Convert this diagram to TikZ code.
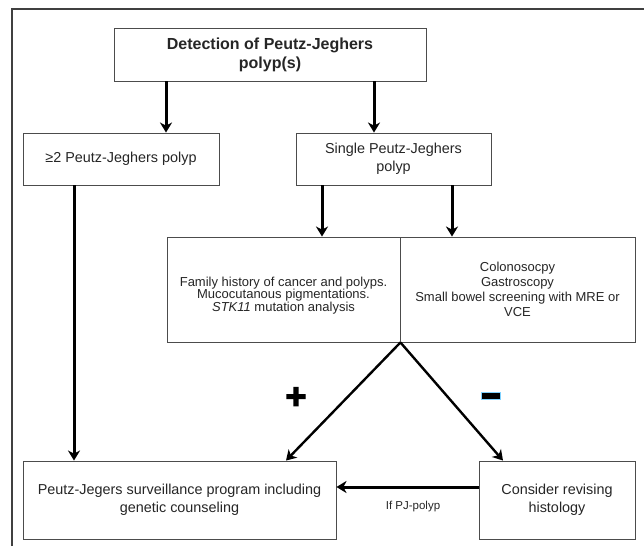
\documentclass[tikz,border=0pt]{standalone}
\usepackage{fontspec}
\setmainfont{Liberation Sans}
\newfontfamily\signfont{Liberation Sans Bold}[FakeBold=3]
\usetikzlibrary{arrows.meta}

\begin{document}
\begin{tikzpicture}[x=1pt,y=1pt,->,>={Stealth[length=10pt,width=12pt,inset=3pt]},line width=3pt]
    \tikzstyle{box}=[draw=black!70,line width=0.9pt,fill=white,align=center,inner sep=0pt,text=black!85,font=\fontsize{14.4}{18}\selectfont]
    \tikzstyle{half}=[box,minimum height=105pt,font=\fontsize{13}{15}\selectfont]
    \tikzstyle{diag}=[line width=2.4pt]

\useasboundingbox (0,0) rectangle (644,-546);
\draw[-,draw=black!75,line width=1.5pt] (12,-546) -- (12,-9) -- (644,-9);

\node[box,minimum width=312pt,minimum height=53pt,font=\bfseries\fontsize{16}{19}\selectfont] (detect) at (270,-54.5) {Detection of Peutz-Jeghers\\polyp(s)};
\node[box,minimum width=196pt,minimum height=52pt] (multi) at (121,-159) {≥2 Peutz-Jeghers polyp};
\node[box,minimum width=195pt,minimum height=52pt] (single) at (393.5,-159) {Single Peutz-Jeghers\\polyp};
\node[half,minimum width=233pt,font=\fontsize{13}{12.5}\selectfont] (history) at (283.5,-289.5) {\rule{0pt}{21pt}Family history of cancer and polyps.\\Mucocutanous pigmentations.\\\textit{STK11} mutation analysis};
\node[half,minimum width=235pt] (exams) at (517.5,-289.5) {Colonosocpy\\Gastroscopy\\Small bowel screening with MRE or\\VCE};
\node[box,minimum width=313pt,minimum height=78pt] (surv) at (179.5,-500) {Peutz-Jegers surveillance program including\\genetic counseling};
\node[box,minimum width=156pt,minimum height=78pt] (revise) at (557,-500) {Consider revising\\histology};
\node[font=\fontsize{11.5}{12}\selectfont,text=black!85] (ifpj) at (413,-507) {If PJ-polyp};
\node[font=\signfont\fontsize{36}{36}\selectfont] (plus) at (296,-398) {+};
\node[fill=black,draw=blue!35!cyan!50,line width=1.2pt,minimum width=19pt,minimum height=7pt,inner sep=0pt] (minus) at (491,-396) {};

% arrow columns
\coordinate (colA) at (166,0);
\coordinate (colB) at (374,0);
\coordinate (colC) at (322,0);
\coordinate (colD) at (452,0);
\coordinate (colE) at (74,0);
\coordinate (colF) at (286,0);
\coordinate (colG) at (503,0);
\coordinate (rowH) at (0,-487);
\coordinate (apex) at (history.south east);

\draw (detect.south -| colA) -- (multi.north -| colA);
\draw (detect.south -| colB) -- (single.north -| colB);
\draw (single.south -| colC) -- (history.north -| colC);
\draw (single.south -| colD) -- (exams.north -| colD);
\draw (multi.south -| colE) -- (surv.north -| colE);
\draw[diag] (apex) -- (surv.north -| colF);
\draw[diag] (apex) -- (revise.north -| colG);
\draw (revise.west |- rowH) -- (surv.east |- rowH);
\end{tikzpicture}
\end{document}
